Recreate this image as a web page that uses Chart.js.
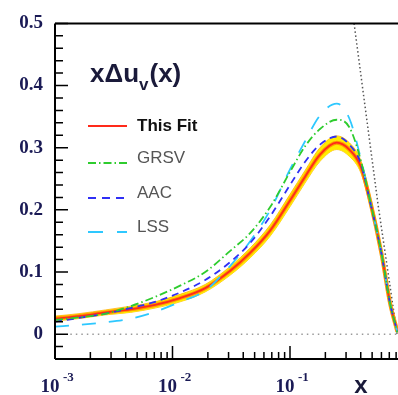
<!DOCTYPE html>
<html>
<head>
<meta charset="utf-8">
<script src="https://cdn.jsdelivr.net/npm/chart.js@4.4.1/dist/chart.umd.min.js"></script>
<style>
  html, body { margin: 0; padding: 0; background: #fff; overflow: hidden; }
  #wrap { width: 420px; height: 395px; }
</style>
</head>
<body>
<div id="wrap"><canvas id="pdfChart" width="420" height="395"></canvas></div>
<script>
// x Delta u_v(x) at common x points
const xValues    = [0.001, 0.0016, 0.0027, 0.0044, 0.0071, 0.0116, 0.019, 0.031, 0.046, 0.068, 0.10, 0.134, 0.18, 0.25, 0.32, 0.40, 0.48, 0.60, 0.71, 0.82];
const thisFit    = [0.025, 0.029, 0.035, 0.040, 0.047, 0.058, 0.074, 0.102, 0.131, 0.167, 0.215, 0.253, 0.289, 0.308, 0.297, 0.270, 0.215, 0.130, 0.050, 0.004];
const thisFitErr = [0.004, 0.004, 0.004, 0.005, 0.005, 0.006, 0.006, 0.007, 0.008, 0.009, 0.010, 0.010, 0.011, 0.011, 0.011, 0.010, 0.008, 0.006, 0.004, 0.002];
const grsv       = [0.023, 0.027, 0.033, 0.045, 0.060, 0.078, 0.100, 0.134, 0.163, 0.205, 0.261, 0.302, 0.330, 0.345, 0.333, 0.280, 0.215, 0.131, 0.050, 0.003];
const aac        = [0.020, 0.026, 0.033, 0.042, 0.052, 0.067, 0.087, 0.116, 0.147, 0.190, 0.240, 0.277, 0.305, 0.318, 0.305, 0.275, 0.213, 0.130, 0.050, 0.004];
const lss        = [0.012, 0.015, 0.019, 0.025, 0.036, 0.052, 0.070, 0.110, 0.150, 0.200, 0.265, 0.310, 0.352, 0.371, 0.347, 0.283, 0.215, 0.130, 0.050, 0.003];

// dotted bound line and zero line
const boundX = [0.351, 0.56, 0.815];
const boundY = [0.5, 0.21, 0.0];
const zeroX = [0.00135, 1];

const yTickLabels = ['0', '0.1', '0.2', '0.3', '0.4', '0.5'];
const xTickExponents = ['-3', '-2', '-1'];
const seriesNames = ['This Fit', 'GRSV', 'AAC', 'LSS'];

const pts = (xs, ys) => xs.map((x, i) => ({ x: x, y: ys[i] }));

const RED = '#ff2a1a', GREEN = '#2ecc2e', BLUE = '#2f2ff5', CYAN = '#2ec8ff';
const dashGrsv = [8, 3, 1.5, 3], dashAac = [7, 5], dashLss = [14, 13];

const lineDefaults = { pointRadius: 0, cubicInterpolationMode: 'monotone', fill: false };

const axesPlugin = {
  id: 'axesPlugin',
  afterDraw(chart) {
    const ctx = chart.ctx;
    const a = chart.chartArea;
    const xs = chart.scales.x, ys = chart.scales.y;
    ctx.save();
    ctx.strokeStyle = '#000';
    ctx.lineWidth = 2;
    ctx.beginPath();
    ctx.moveTo(a.left, a.top); ctx.lineTo(a.right, a.top);
    ctx.moveTo(a.left, a.top); ctx.lineTo(a.left, a.bottom);
    ctx.moveTo(a.left, a.bottom); ctx.lineTo(a.right, a.bottom);
    ctx.stroke();

    // inward ticks on y
    ctx.lineWidth = 1.5;
    ctx.beginPath();
    for (let k = -2; k <= 25; k++) {
      const y = ys.getPixelForValue(k * 0.02);
      const len = (k % 5 === 0) ? 13 : 8;
      ctx.moveTo(a.left, y); ctx.lineTo(a.left + len, y);
    }
    // inward ticks on x (log)
    for (let d = -3; d <= 0; d++) {
      for (let m = 1; m <= 9; m++) {
        const v = m * Math.pow(10, d);
        if (v > 1) break;
        const x = xs.getPixelForValue(v);
        const len = (m === 1) ? 13 : 7;
        ctx.moveTo(x, a.bottom); ctx.lineTo(x, a.bottom - len);
      }
    }
    ctx.stroke();

    // x tick labels 10^n
    ctx.fillStyle = '#1a1a55';
    xTickExponents.forEach(e => {
      const x = xs.getPixelForValue(Math.pow(10, parseInt(e)));
      ctx.font = 'bold 19px "Liberation Serif"';
      ctx.textAlign = 'center';
      ctx.textBaseline = 'alphabetic';
      ctx.fillText('10', x - 5, 392);
      ctx.font = 'bold 13px "Liberation Serif"';
      ctx.textAlign = 'left';
      ctx.fillText(e, x + 8, 381);
    });
    // x axis title
    ctx.fillStyle = '#1a1a3a';
    ctx.font = 'bold 24px "Liberation Sans"';
    ctx.textAlign = 'center';
    ctx.fillText('x', 361, 393);

    // plot title x Delta u_v (x)
    ctx.textAlign = 'left';
    let tx = 90;
    ctx.font = 'bold 26px "Liberation Sans"';
    ctx.fillText('x\u0394u', tx, 82);
    tx += ctx.measureText('x\u0394u').width;
    ctx.font = 'bold 17px "Liberation Sans"';
    ctx.fillText('v', tx, 90);
    tx += ctx.measureText('v').width + 1;
    ctx.font = 'bold 26px "Liberation Sans"';
    ctx.fillText('(x)', tx, 82);

    // legend
    const rows = [
      { color: RED, dash: [], width: 2.2, lineY: 126, textY: 126, font: 'bold 17px "Liberation Sans"', tcol: '#111' },
      { color: GREEN, dash: dashGrsv, width: 1.8, lineY: 163, textY: 158, font: '17px "Liberation Sans"', tcol: '#555' },
      { color: BLUE, dash: [8, 6], width: 1.8, lineY: 198, textY: 193, font: '17px "Liberation Sans"', tcol: '#555' },
      { color: CYAN, dash: [15, 14], width: 1.8, lineY: 232, textY: 227, font: '17px "Liberation Sans"', tcol: '#555' }
    ];
    rows.forEach((r, i) => {
      ctx.strokeStyle = r.color;
      ctx.lineWidth = r.width;
      ctx.setLineDash(r.dash);
      ctx.beginPath();
      ctx.moveTo(88, r.lineY); ctx.lineTo(127, r.lineY);
      ctx.stroke();
      ctx.setLineDash([]);
      ctx.fillStyle = r.tcol;
      ctx.font = r.font;
      ctx.textBaseline = 'middle';
      ctx.fillText(seriesNames[i], 137, r.textY);
    });
    ctx.restore();
  }
};

new Chart(document.getElementById('pdfChart'), {
  type: 'line',
  data: {
    datasets: [
      { ...lineDefaults, data: pts(zeroX, [0, 0]), borderColor: '#9a9a9a', borderWidth: 1.5, borderDash: [1.5, 4], order: 10 },
      { ...lineDefaults, data: pts(boundX, boundY), borderColor: '#555', borderWidth: 1.5, borderDash: [1.5, 2.5], cubicInterpolationMode: 'default', order: 10 },
      { ...lineDefaults, data: pts(xValues, thisFit.map((v, i) => v - thisFitErr[i])), borderColor: '#ffb000', borderWidth: 0.8, order: 9 },
      { ...lineDefaults, data: pts(xValues, thisFit.map((v, i) => v + thisFitErr[i])), borderColor: '#ffb000', borderWidth: 0.8, fill: '-1', backgroundColor: '#ffec00', order: 8 },
      { ...lineDefaults, data: pts(xValues, thisFit), borderColor: '#ff9a00', borderWidth: 4, order: 7 },
      { ...lineDefaults, label: seriesNames[0], data: pts(xValues, thisFit), borderColor: RED, borderWidth: 1.8, order: 6 },
      { ...lineDefaults, label: seriesNames[1], data: pts(xValues, grsv), borderColor: GREEN, borderWidth: 1.8, borderDash: dashGrsv, order: 3 },
      { ...lineDefaults, label: seriesNames[2], data: pts(xValues, aac), borderColor: BLUE, borderWidth: 1.8, borderDash: dashAac, order: 4 },
      { ...lineDefaults, label: seriesNames[3], data: pts(xValues, lss), borderColor: CYAN, borderWidth: 1.8, borderDash: dashLss, order: 5 }
    ]
  },
  options: {
    responsive: false,
    animation: false,
    layout: { padding: { top: 16, right: 12.5, left: 0, bottom: 0 } },
    plugins: { legend: { display: false }, tooltip: { enabled: false } },
    scales: {
      x: {
        type: 'logarithmic',
        min: 0.001,
        max: 1,
        ticks: { display: false },
        grid: { display: false },
        border: { display: false },
        afterFit(s) { s.height = 36; }
      },
      y: {
        min: -0.04,
        max: 0.5,
        afterBuildTicks(s) { s.ticks = yTickLabels.map(t => ({ value: parseFloat(t) })); },
        ticks: {
          callback: (v) => yTickLabels.find(t => Math.abs(parseFloat(t) - v) < 1e-6) || '',
          font: { family: '"Liberation Serif"', size: 19, weight: 'bold' },
          color: '#1a1a55',
          padding: 12
        },
        grid: { display: false, drawTicks: false },
        border: { display: false },
        afterFit(s) { s.width = 55; }
      }
    }
  },
  plugins: [axesPlugin]
});
</script>
</body>
</html>
